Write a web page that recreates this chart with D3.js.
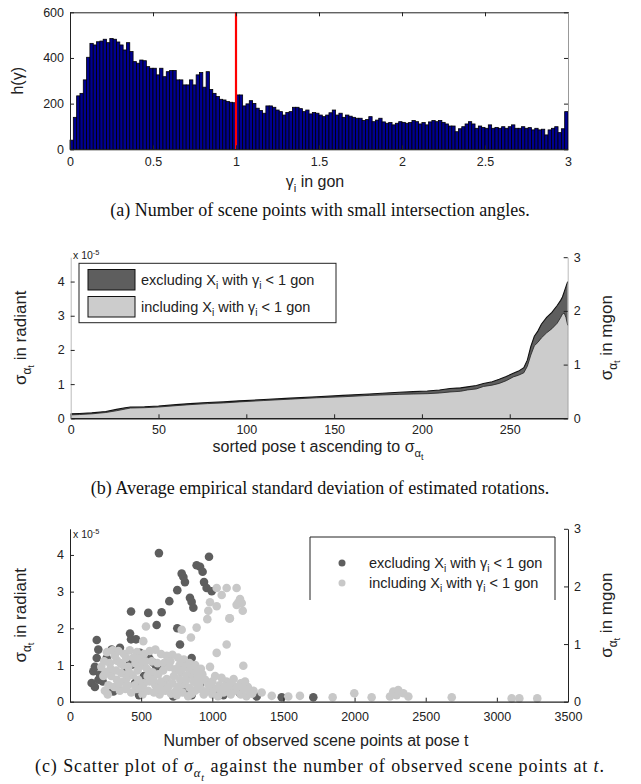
<!DOCTYPE html>
<html>
<head>
<meta charset="utf-8">
<script src="https://cdnjs.cloudflare.com/ajax/libs/d3/7.8.5/d3.min.js"></script>
<style>
body { margin: 0; background: #fff; }
</style>
</head>
<body>
<svg width="641" height="784"></svg>
<script>
// ---- data ----

// (a) histogram of intersection angles, bins of 0.02 gon from 0 to 3
var binWidth = 0.02;
var histCounts = [
  40, 140, 234, 245, 304, 403, 464, 457, 471, 474,
  482, 467, 485, 482, 470, 457, 435, 467, 428, 384,
  377, 391, 388, 362, 355, 355, 326, 355, 318, 340,
  345, 345, 304, 304, 282, 282, 304, 282, 326, 336,
  272, 340, 262, 245, 231, 219, 216, 209, 206, 204,
  238, 238, 190, 199, 213, 201, 180, 170, 158, 190,
  190, 184, 172, 165, 150, 161, 165, 184, 184, 178,
  165, 172, 155, 161, 158, 150, 143, 150, 160, 172,
  150, 158, 140, 150, 145, 140, 136, 136, 126, 130,
  143, 121, 128, 136, 120, 114, 117, 107, 114, 121,
  118, 114, 117, 126, 121, 111, 117, 107, 120, 126,
  121, 126, 118, 111, 102, 102, 77, 90, 99, 111,
  121, 111, 92, 102, 96, 92, 107, 92, 96, 92,
  99, 92, 99, 107, 92, 92, 99, 92, 95, 85,
  92, 85, 88, 63, 85, 92, 99, 73, 90, 165
];
var gammaTicks = [0, 0.5, 1, 1.5, 2, 2.5, 3];
var histTicks = [0, 200, 400, 600];
var thresholdGon = 1;

// (b) sorted poses, sigma in 1e-5 rad
var poseT = [0, 5, 12, 20, 26, 31, 34, 42, 50, 60,
  68, 78, 87, 96, 110, 125, 140, 155, 170, 187,
  195, 203, 210, 216, 222, 226, 231, 235, 240, 244,
  248, 252, 255, 258, 260, 262, 264, 266, 268, 271,
  274, 277, 279, 280, 281, 282, 283];
var sigmaIncl = [0.10, 0.11, 0.13, 0.17, 0.22, 0.27, 0.30, 0.31, 0.33, 0.37,
  0.40, 0.43, 0.45, 0.48, 0.52, 0.56, 0.60, 0.63, 0.67, 0.70,
  0.71, 0.72, 0.74, 0.77, 0.79, 0.83, 0.86, 0.93, 0.97, 1.02,
  1.10, 1.21, 1.26, 1.33, 1.52, 1.85, 2.12, 2.22, 2.35, 2.50,
  2.62, 2.78, 2.95, 3.05, 3.08, 2.95, 2.72];
var sigmaExcl = [0.13, 0.14, 0.16, 0.20, 0.26, 0.31, 0.33, 0.34, 0.36, 0.40,
  0.43, 0.46, 0.48, 0.51, 0.55, 0.59, 0.63, 0.67, 0.71, 0.76,
  0.78, 0.80, 0.83, 0.87, 0.89, 0.92, 0.96, 1.02, 1.07, 1.14,
  1.22, 1.32, 1.38, 1.48, 1.70, 2.10, 2.40, 2.55, 2.75, 2.95,
  3.10, 3.30, 3.45, 3.55, 3.70, 3.85, 4.00];
var poseTicks = [0, 50, 100, 150, 200, 250];
var radTicks = [0, 1, 2, 3, 4];
var mgonTicks = [0, 1, 2, 3];

// (c) scatter: [observed points, sigma in 1e-5 rad]
var excludingPts = [
  [625, 4.05], [977, 3.95], [890, 3.72], [914, 3.68], [932, 3.54], [785, 3.49], [797, 3.40],
  [808, 3.26], [942, 3.26], [960, 3.10], [996, 3.01], [754, 3.04], [698, 2.74], [843, 2.83],
  [855, 2.72], [867, 2.56], [429, 2.46], [550, 2.42], [644, 2.44], [609, 2.09], [754, 2.00],
  [422, 1.86], [429, 1.70], [188, 1.68], [464, 1.70], [773, 1.56], [199, 1.42], [351, 1.47],
  [293, 1.42], [492, 1.33], [550, 1.24], [562, 1.15], [586, 1.06], [609, 0.96], [633, 0.92],
  [855, 1.19], [188, 1.19], [164, 0.83], [211, 0.74], [152, 0.51], [422, 1.10], [434, 1.01],
  [258, 1.19], [305, 0.28], [485, 0.18], [726, 0.14], [855, 0.18], [914, 0.46], [1078, 0.18],
  [1195, 0.23], [1312, 0.14], [1488, 0.12], [1710, 0.12], [175, 0.95], [200, 0.60], [230, 0.55],
  [175, 0.40], [398, 0.83], [457, 0.51], [520, 0.70], [600, 0.85], [300, 0.35], [1030, 0.30],
  [820, 0.35]
];
var includingPts = [
  [1031, 3.10], [1101, 3.10], [1171, 3.10], [1066, 2.91], [1195, 2.80], [1207, 2.69], [1171, 2.64],
  [984, 2.71], [1031, 2.60], [972, 2.48], [965, 2.25], [1214, 2.48], [1120, 2.27], [534, 2.05],
  [890, 2.02], [785, 1.96], [850, 1.75], [1101, 1.56], [1031, 1.33], [515, 1.65], [1218, 0.98],
  [984, 0.95], [1183, 2.70], [1124, 2.27],
  [1347, 0.25], [1418, 0.16], [1534, 0.14], [1616, 0.16], [1846, 0.12], [1998, 0.23], [2120, 0.12],
  [2272, 0.28], [2296, 0.18], [2307, 0.32], [2343, 0.23], [2378, 0.14], [2249, 0.14], [2683, 0.12],
  [3104, 0.09], [3158, 0.09], [3284, 0.09],
  [260, 1.35], [300, 1.40], [340, 1.38], [380, 1.30], [420, 1.40], [470, 1.35], [520, 1.30],
  [560, 1.38], [600, 1.42], [640, 1.30], [680, 1.25], [720, 1.28], [760, 1.20], [800, 1.15],
  [840, 1.05], [880, 1.00], [920, 0.90],
  [240, 1.10], [280, 1.05], [330, 1.12], [370, 1.00], [410, 0.95], [460, 1.05], [500, 0.98],
  [540, 0.90], [580, 0.80], [620, 0.75], [660, 1.05], [700, 0.95], [740, 0.88], [780, 0.80],
  [820, 0.72], [860, 0.70], [900, 0.65], [950, 0.60], [1000, 0.55], [1050, 0.45], [1100, 0.55],
  [1150, 0.62], [1200, 0.50], [1250, 0.40], [1290, 0.30],
  [250, 0.80], [290, 0.70], [330, 0.60], [360, 0.78], [400, 0.65], [440, 0.72], [480, 0.60],
  [520, 0.50], [560, 0.55], [600, 0.45], [640, 0.55], [680, 0.62], [720, 0.50], [760, 0.40],
  [800, 0.48], [840, 0.38], [880, 0.30], [920, 0.35], [960, 0.28], [1000, 0.20], [1040, 0.15],
  [1080, 0.25], [1120, 0.35], [1160, 0.30], [1200, 0.20], [1240, 0.15], [1280, 0.22],
  [270, 0.45], [310, 0.40], [350, 0.30], [390, 0.35], [430, 0.25], [470, 0.35], [510, 0.20],
  [550, 0.30], [590, 0.25], [630, 0.20], [670, 0.30], [710, 0.22], [750, 0.18], [790, 0.25],
  [830, 0.15], [870, 0.55], [910, 0.50], [1010, 0.35], [1060, 0.32], [1140, 0.45], [1220, 0.35],
  [220, 0.95], [235, 0.70], [245, 0.30], [265, 0.20], [285, 0.90], [315, 1.25], [325, 0.85],
  [345, 0.50], [355, 1.05], [375, 0.55], [395, 1.20], [405, 0.45], [415, 0.80], [445, 1.20],
  [455, 0.45], [475, 0.85], [495, 1.18], [505, 0.40], [530, 1.10], [545, 0.70], [575, 1.10],
  [585, 0.60], [615, 1.05], [625, 0.35], [655, 0.85], [665, 0.45], [690, 0.40], [705, 1.10],
  [730, 0.70], [745, 0.30], [770, 1.00], [775, 0.60], [810, 0.95], [815, 0.58], [850, 0.88],
  [855, 0.22], [890, 0.80], [895, 0.45], [930, 0.75], [940, 0.20], [975, 0.45], [1020, 0.70],
  [1065, 0.65], [1090, 0.40], [1130, 0.20], [1175, 0.40], [1230, 0.55], [1265, 0.25]
];
var countTicks = [0, 500, 1000, 1500, 2000, 2500, 3000, 3500];

// 1 mgon expressed in 1e-5 rad
var mgonToRad = Math.PI / 200 * 1e-3 / 1e-5;

var sans = "'Liberation Sans', Arial, sans-serif";
var serif = "'Liberation Serif', 'Times New Roman', serif";
var tickFont = 12.5;
var labelFont = 16;
var legendFont = 14.5;
var capFont = 18;
var svg = d3.select("svg");

// text with sub-/superscripts; level 0 normal, 1 sub, 2 sub-sub, -1 super
function rich(sel, parts, size) {
  var off = { "-1": -size * 0.4, "0": 0, "1": size * 0.3, "2": size * 0.48 };
  var fs = { "-1": size * 0.7, "0": size, "1": size * 0.7, "2": size * 0.55 };
  var cur = 0;
  parts.forEach(function (p) {
    var lv = p[1] || 0;
    var t = sel.append("tspan")
      .attr("dy", off[lv] - off[cur])
      .attr("font-size", fs[lv])
      .text(p[0]);
    if (p[2]) t.attr("font-style", "italic");
    cur = lv;
  });
}

function styleAxis(g, domainColor) {
  g.attr("font-family", sans).attr("font-size", tickFont);
  g.selectAll("text").attr("fill", "#222");
  g.selectAll(".tick line").attr("stroke", "#222");
  g.select(".domain").attr("stroke", domainColor || "#222");
}

var intFmt = d3.format("d");

// ================= (a) =================
var ax = d3.scaleLinear().domain([0, 3]).range([70, 568]);
var ay = d3.scaleLinear().domain([0, 600]).range([149.3, 12.3]);

svg.append("g").selectAll("rect")
  .data(histCounts)
  .join("rect")
  .attr("x", function (d, i) { return ax(i * binWidth); })
  .attr("width", ax(binWidth) - ax(0))
  .attr("y", function (d) { return ay(d); })
  .attr("height", function (d) { return ay(0) - ay(d); })
  .attr("fill", "#000090")
  .attr("stroke", "#000")
  .attr("stroke-width", 0.8);

svg.append("line")
  .attr("x1", ax(thresholdGon)).attr("x2", ax(thresholdGon))
  .attr("y1", ay(600)).attr("y2", ay(0))
  .attr("stroke", "#f00").attr("stroke-width", 2.2);

var aBottom = svg.append("g")
  .attr("transform", "translate(0," + ay(0) + ")")
  .call(d3.axisBottom(ax).tickValues(gammaTicks).tickFormat(function (d) { return d; })
    .tickSizeInner(-4).tickSizeOuter(0).tickPadding(8));
styleAxis(aBottom);
var aLeft = svg.append("g")
  .attr("transform", "translate(" + ax(0) + ",0)")
  .call(d3.axisLeft(ay).tickValues(histTicks).tickFormat(intFmt).tickSizeInner(-4).tickSizeOuter(0).tickPadding(6));
styleAxis(aLeft);
var aTop = svg.append("g")
  .attr("transform", "translate(0," + ay(600) + ")")
  .call(d3.axisTop(ax).tickValues(gammaTicks).tickFormat("").tickSizeInner(-4).tickSizeOuter(0));
styleAxis(aTop);
var aRight = svg.append("g")
  .attr("transform", "translate(" + ax(3) + ",0)")
  .call(d3.axisRight(ay).tickValues(histTicks).tickFormat("").tickSizeInner(-4).tickSizeOuter(0));
styleAxis(aRight, "#999");

var hLab = svg.append("text")
  .attr("transform", "translate(23," + ((ay(0) + ay(600)) / 2) + ") rotate(-90)")
  .attr("text-anchor", "middle").attr("font-family", sans).attr("fill", "#222");
rich(hLab, [["h(γ)"]], labelFont);
var gLab = svg.append("text")
  .attr("x", 315).attr("y", 187)
  .attr("text-anchor", "middle").attr("font-family", sans).attr("fill", "#222");
rich(gLab, [["γ"], ["i", 1], [" in gon"]], labelFont);

svg.append("text").attr("x", 320).attr("y", 216)
  .attr("text-anchor", "middle").attr("font-family", serif).attr("font-size", capFont).attr("fill", "#111")
  .text("(a)  Number of scene points with small intersection angles.");

// ================= (b) =================
var bx = d3.scaleLinear().domain([0, 283]).range([70.7, 567.7]);
var by = d3.scaleLinear().domain([0, 3 * mgonToRad]).range([418.3, 257.2]);
var byM = d3.scaleLinear().domain([0, 3]).range([418.3, 257.2]);

var areaSig = d3.area()
  .x(function (d, i) { return bx(poseT[i]); })
  .y0(by(0))
  .y1(function (d) { return by(d); });
var lineTop = d3.line()
  .x(function (d, i) { return bx(poseT[i]); })
  .y(function (d) { return by(d); });

svg.append("path").datum(sigmaExcl).attr("d", areaSig).attr("fill", "#5e5e5e");
svg.append("path").datum(sigmaIncl).attr("d", areaSig).attr("fill", "#cccccc");
svg.append("path").datum(sigmaExcl).attr("d", lineTop)
  .attr("fill", "none").attr("stroke", "#111").attr("stroke-width", 1.1);
svg.append("path").datum(sigmaIncl).attr("d", lineTop)
  .attr("fill", "none").attr("stroke", "#222").attr("stroke-width", 0.8);

var bBottom = svg.append("g")
  .attr("transform", "translate(0," + by(0) + ")")
  .call(d3.axisBottom(bx).tickValues(poseTicks).tickFormat(intFmt).tickSizeInner(-4).tickSizeOuter(0).tickPadding(7));
styleAxis(bBottom);
bBottom.select(".domain").attr("stroke-width", 1.5);
var bLeft = svg.append("g")
  .attr("transform", "translate(" + bx(0) + ",0)")
  .call(d3.axisLeft(by).tickValues(radTicks).tickFormat(intFmt).tickSizeInner(-4).tickSizeOuter(0).tickPadding(6));
styleAxis(bLeft, "#bbb");
var bRight = svg.append("g")
  .attr("transform", "translate(" + bx(283) + ",0)")
  .call(d3.axisRight(byM).tickValues(mgonTicks).tickFormat(intFmt).tickSizeInner(-4).tickSizeOuter(0).tickPadding(6));
styleAxis(bRight, "#bbb");

var bExp = svg.append("text").attr("x", 73).attr("y", 259)
  .attr("font-family", sans).attr("fill", "#222");
rich(bExp, [["x 10", 0], ["-5", -1]], 10.5);

// legend (b)
var legB = svg.append("g");
legB.append("rect").attr("x", 79).attr("y", 263.3).attr("width", 257).attr("height", 59.4)
  .attr("fill", "#fff").attr("stroke", "#222").attr("stroke-width", 1);
var legBItems = [
  { fill: "#5e5e5e", label: "excluding" },
  { fill: "#cccccc", label: "including" }
];
legBItems.forEach(function (it, i) {
  var y0 = 269.5 + i * 27;
  legB.append("rect").attr("x", 88).attr("y", y0).attr("width", 47).attr("height", 20.5)
    .attr("fill", it.fill).attr("stroke", "#111").attr("stroke-width", 1);
  var t = legB.append("text").attr("x", 141).attr("y", y0 + 15)
    .attr("font-family", sans).attr("fill", "#222");
  rich(t, [[it.label + " X"], ["i", 1], [" with γ"], ["i", 1], [" < 1 gon"]], legendFont);
});

var bYL = svg.append("text")
  .attr("transform", "translate(26," + ((by(0) + byM(3)) / 2) + ") rotate(-90)")
  .attr("text-anchor", "middle").attr("font-family", sans).attr("fill", "#222");
rich(bYL, [["σ"], ["α", 1], ["t", 2], [" in radiant", 0]], 17);
var bYR = svg.append("text")
  .attr("transform", "translate(612," + ((by(0) + byM(3)) / 2) + ") rotate(-90)")
  .attr("text-anchor", "middle").attr("font-family", sans).attr("fill", "#222");
rich(bYR, [["σ"], ["α", 1], ["t", 2], [" in mgon", 0]], 17);
var bXL = svg.append("text").attr("x", 318).attr("y", 452)
  .attr("text-anchor", "middle").attr("font-family", sans).attr("fill", "#222");
rich(bXL, [["sorted pose t ascending to σ"], ["α", 1], ["t", 2]], labelFont);

svg.append("text").attr("x", 320).attr("y", 494)
  .attr("text-anchor", "middle").attr("font-family", serif).attr("font-size", capFont).attr("fill", "#111")
  .text("(b)  Average empirical standard deviation of estimated rotations.");

// ================= (c) =================
var cx = d3.scaleLinear().domain([0, 3500]).range([70, 568]);
var cy = d3.scaleLinear().domain([0, 3 * mgonToRad]).range([701.7, 528.8]);
var cyM = d3.scaleLinear().domain([0, 3]).range([701.7, 528.8]);

svg.append("g").selectAll("circle")
  .data(excludingPts)
  .join("circle")
  .attr("cx", function (d) { return cx(d[0]); })
  .attr("cy", function (d) { return cy(d[1]); })
  .attr("r", 4.3)
  .attr("fill", "#5e5e5e");
svg.append("g").selectAll("circle")
  .data(includingPts)
  .join("circle")
  .attr("cx", function (d) { return cx(d[0]); })
  .attr("cy", function (d) { return cy(d[1]); })
  .attr("r", 4.3)
  .attr("fill", "#c8c8c8");

var cBottom = svg.append("g")
  .attr("transform", "translate(0," + cy(0) + ")")
  .call(d3.axisBottom(cx).tickValues(countTicks).tickFormat(intFmt).tickSizeInner(-4).tickSizeOuter(0).tickPadding(10));
styleAxis(cBottom);
cBottom.select(".domain").attr("stroke-width", 1.3);
var cLeft = svg.append("g")
  .attr("transform", "translate(" + cx(0) + ",0)")
  .call(d3.axisLeft(cy).tickValues(radTicks).tickFormat(intFmt).tickSizeInner(-4).tickSizeOuter(0).tickPadding(6));
styleAxis(cLeft);
var cRight = svg.append("g")
  .attr("transform", "translate(" + cx(3500) + ",0)")
  .call(d3.axisRight(cyM).tickValues(mgonTicks).tickFormat(intFmt).tickSizeInner(-4).tickSizeOuter(0).tickPadding(6));
styleAxis(cRight);

var cExp = svg.append("text").attr("x", 73).attr("y", 538)
  .attr("font-family", sans).attr("fill", "#222");
rich(cExp, [["x 10", 0], ["-5", -1]], 10.5);

// legend (c), box open at the bottom
svg.append("path")
  .attr("d", "M310,600V537H555V600")
  .attr("fill", "none").attr("stroke", "#222").attr("stroke-width", 1);
var legCItems = [
  { fill: "#5e5e5e", label: "excluding" },
  { fill: "#c8c8c8", label: "including" }
];
legCItems.forEach(function (it, i) {
  var y0 = 563 + i * 20;
  svg.append("circle").attr("cx", 342).attr("cy", y0).attr("r", 3.5).attr("fill", it.fill);
  var t = svg.append("text").attr("x", 369).attr("y", y0 + 5)
    .attr("font-family", sans).attr("fill", "#222");
  rich(t, [[it.label + " X"], ["i", 1], [" with γ"], ["i", 1], [" < 1 gon"]], legendFont);
});

var cYL = svg.append("text")
  .attr("transform", "translate(26," + ((cy(0) + cyM(3)) / 2) + ") rotate(-90)")
  .attr("text-anchor", "middle").attr("font-family", sans).attr("fill", "#222");
rich(cYL, [["σ"], ["α", 1], ["t", 2], [" in radiant", 0]], 17);
var cYR = svg.append("text")
  .attr("transform", "translate(612," + ((cy(0) + cyM(3)) / 2) + ") rotate(-90)")
  .attr("text-anchor", "middle").attr("font-family", sans).attr("fill", "#222");
rich(cYR, [["σ"], ["α", 1], ["t", 2], [" in mgon", 0]], 17);
svg.append("text").attr("x", 316).attr("y", 746)
  .attr("text-anchor", "middle").attr("font-family", sans).attr("font-size", labelFont).attr("fill", "#222")
  .text("Number of observed scene points at pose t");

var capC = svg.append("text").attr("x", 320).attr("y", 772)
  .attr("text-anchor", "middle").attr("font-family", serif).attr("fill", "#111")
  .attr("letter-spacing", 0.9);
rich(capC, [["(c)  Scatter plot of "], ["σ", 0, 1], ["α", 1, 1], ["t", 2, 1],
  [" against the number of observed scene points at ", 0], ["t", 0, 1], ["."]], capFont);
</script>
</body>
</html>
